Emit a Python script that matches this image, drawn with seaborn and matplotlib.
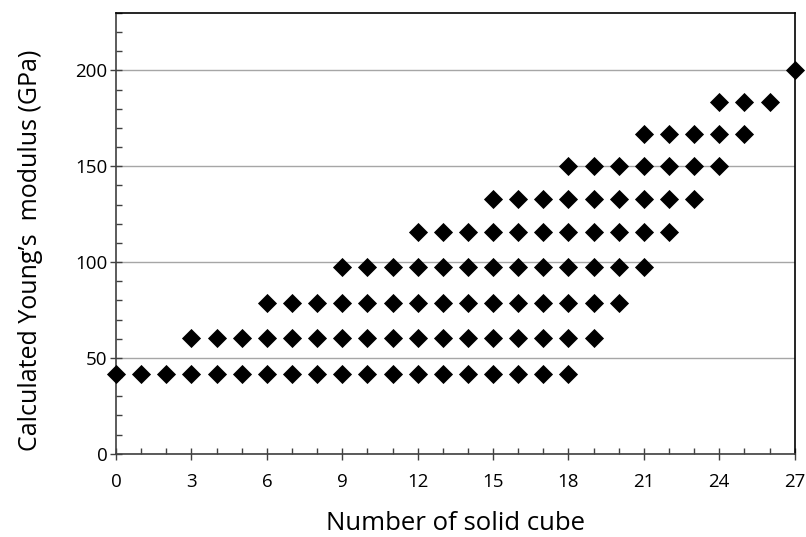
import matplotlib
matplotlib.use("Agg")
import matplotlib.pyplot as plt
import seaborn as sns
import pandas as pd
from matplotlib.ticker import MultipleLocator

# Levels of Young's modulus (GPa)
levels = [41.5, 60.4, 78.8, 97.2, 115.5, 132.9, 150.0, 166.7, 183.7, 200.0]

# number of solid cubes for every point, and the level index of each point
n_cubes = (
    [0, 1, 2]
    + [3]*2 + [4]*2 + [5]*2
    + [6]*3 + [7]*3 + [8]*3
    + [9]*4 + [10]*4 + [11]*4
    + [12]*5 + [13]*5 + [14]*5
    + [15]*6 + [16]*6 + [17]*6
    + [18]*7 + [19]*6 + [20]*5
    + [21]*5 + [22]*4 + [23]*3
    + [24]*3 + [25]*2 + [26]*1 + [27]*1
)
level_idx = (
    [0, 0, 0]
    + [0, 1]*3
    + [0, 1, 2]*3
    + [0, 1, 2, 3]*3
    + [0, 1, 2, 3, 4]*3
    + [0, 1, 2, 3, 4, 5]*3
    + [0, 1, 2, 3, 4, 5, 6]
    + [1, 2, 3, 4, 5, 6]
    + [2, 3, 4, 5, 6]
    + [3, 4, 5, 6, 7]
    + [4, 5, 6, 7]
    + [5, 6, 7]
    + [6, 7, 8]
    + [7, 8]
    + [8]
    + [9]
)
modulus = [levels[i] for i in level_idx]

df = pd.DataFrame({"n": n_cubes, "E": modulus})

sns.set_style("white")
plt.rcParams['font.family'] = ['Open Sans', 'DejaVu Sans']

fig = plt.figure(figsize=(8.06, 5.37), dpi=100)
ax = fig.add_axes([0.144, 0.155, 0.842, 0.821])

ax.yaxis.grid(True, color="#a6a6a6", linewidth=1.0)
ax.set_axisbelow(True)

sns.scatterplot(data=df, x="n", y="E", marker="D", s=95, color="black",
                edgecolor="black", linewidth=0, ax=ax, zorder=3, clip_on=False)

ax.set_xlim(0, 27)
ax.set_ylim(0, 230)
ax.xaxis.set_major_locator(MultipleLocator(3))
ax.xaxis.set_minor_locator(MultipleLocator(1))
ax.yaxis.set_major_locator(MultipleLocator(50))
ax.yaxis.set_minor_locator(MultipleLocator(10))
ax.set_yticks([0, 50, 100, 150, 200])

ax.tick_params(which="major", direction="inout", length=8, width=1.0,
               color="#404040", labelsize=13.5, labelcolor="black")
ax.tick_params(axis="y", which="major", pad=2)
ax.tick_params(axis="x", which="major", pad=10)
ax.tick_params(which="minor", direction="in", length=4, width=1.0, color="#404040")
ax.tick_params(axis="x", which="both", bottom=True)
ax.tick_params(axis="y", which="both", left=True)

for side in ["left", "bottom"]:
    ax.spines[side].set_color("#404040")
    ax.spines[side].set_linewidth(1.2)
for side in ["top", "right"]:
    ax.spines[side].set_color("black")
    ax.spines[side].set_linewidth(1.2)

ax.set_xlabel("Number of solid cube", fontsize=18.5, labelpad=14, color="black")
ax.set_ylabel("Calculated Young\u2019s  modulus (GPa)", fontsize=18, color="black")
ax.yaxis.set_label_coords(-0.108, 0.461)

fig.savefig("out.png", dpi=100)
